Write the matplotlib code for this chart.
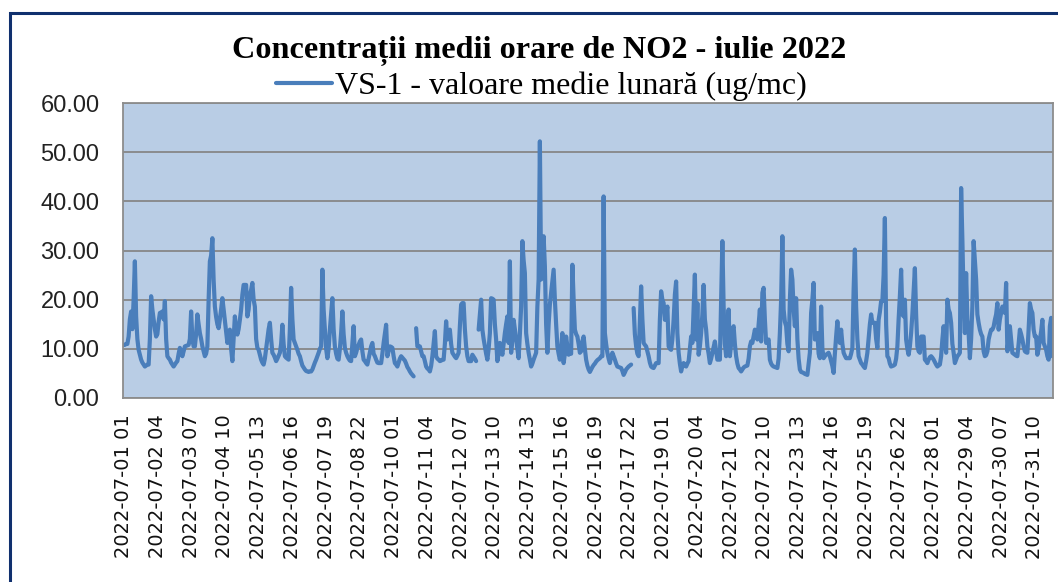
import numpy as np
import matplotlib
matplotlib.use("Agg")
import matplotlib.pyplot as plt
from matplotlib.patches import Rectangle

nan = np.nan

# Hourly NO2 concentrations (ug/mc), July 2022, one list per day (24 values each)
d01 = [10.8, 10.8, 11, 11, 12.5, 16, 17.6, 14, 20, 27.8, 16.6, 12, 9.8, 8.8, 7.8, 7.2, 6.8, 6.4, 6.6, 6.8, 6.8, 12, 20.7, 18]
d02 = [16, 14, 12.5, 13, 15.5, 17.3, 17.4, 17.6, 16, 19.7, 12, 8.5, 8.1, 7.8, 7.2, 6.8, 6.4, 6.8, 7.2, 7.5, 9, 10.2, 9.2, 8.5]
d03 = [9.5, 10.5, 10.6, 10.7, 10.8, 12, 17.6, 12, 10.5, 10.5, 13, 17, 15, 13.2, 12, 10.5, 9.5, 8.5, 9, 10.5, 20, 27.8, 29, 32.5]
d04 = [24, 18.6, 16.5, 15, 14.2, 16, 18, 20.3, 18, 15.9, 13.5, 11.2, 12.5, 13.9, 10, 7.5, 12, 16.6, 14, 12.9, 14, 15.9, 18, 21]
d05 = [23, 23, 23, 16.6, 18, 21, 22, 23.4, 20, 18.6, 12, 10.2, 9.8, 8.8, 7.8, 7.2, 6.8, 8, 10, 12, 14, 15.3, 12, 9.2]
d06 = [8.8, 8.2, 7.5, 8, 8.6, 9.2, 11, 14.9, 11, 8.5, 8.2, 8, 7.8, 14, 22.4, 16, 11.9, 11.2, 10.5, 9.8, 9, 8.5, 7.5, 6.6]
d07 = [6.2, 5.8, 5.5, 5.4, 5.3, 5.4, 5.4, 5.8, 6.5, 7.2, 7.8, 8.5, 9.2, 10, 10.5, 26.1, 18, 13.9, 10, 8.1, 10, 13.9, 17, 20.3]
d08 = [14, 10.5, 9, 8, 7.8, 10, 13.2, 17.6, 13, 10.2, 9.2, 8.5, 8, 7.6, 7.5, 11, 14.6, 8.5, 9.2, 10.2, 10.8, 11.5, 11.9, 9.5]
d09 = [7.8, 7.5, 7.1, 6.8, 8, 9.2, 10.5, 11.2, 9, 8.5, 7.8, 7.2, 7.1, 7.1, 7.1, 9, 11.2, 13, 14.9, 8.5, 9.5, 10.5, 10.4, 10.2]
d10 = [8.5, 7.1, 6.8, 6.4, 7.2, 8, 8.5, 8.2, 7.9, 7.6, 7, 6.3, 5.9, 5.4, 5, 4.7, 4.4, nan, 14.2, 10.5, 10.5, 10.5, 9.5, 8.5]
d11 = [8.5, 7.5, 6.4, 6, 5.8, 5.4, 6.5, 8.5, 11, 13.6, 8.5, 8, 7.8, 7.5, 7.6, 7.8, 7.8, 11, 15.6, 11.9, 12.5, 13.9, 11, 9.2]
d12 = [8.8, 8.4, 8.1, 8.6, 9.2, 14.6, 19, 19.3, 19.3, 14, 10.5, 8.5, 7.5, 7.5, 7.5, 8.8, 8.4, 8, 7.5, nan, 13.9, 17, 20, 13.9]
d13 = [12, 10.5, 9, 7.8, 10, 13.2, 20.3, 20.2, 20, 15, 11.9, 7.5, 9, 11.2, 10, 8.8, 11, 13.2, 15, 16.6, 11.2, 27.8, 9.2, 12]
d14 = [15.9, 14, 11.9, 10, 8.1, 13, 18.6, 31.9, 28, 25.4, 13.2, 11, 9.2, 7.8, 6.4, 7, 7.8, 8.5, 9.2, 18.6, 24.1, 52.2, 24.1, 30]
d15 = [32.9, 26.8, 15, 9.2, 15, 19, 21.4, 24, 26.1, 20, 15, 10.5, 9, 7.8, 10, 13.2, 7.1, 9, 12.5, 10.5, 8.8, 9.2, 9, 27.1]
d16 = [20, 13.9, 13, 12.5, 11, 9.2, 9.5, 11.5, 12.5, 10, 7.8, 6.6, 5.8, 5.3, 5.8, 6.3, 6.7, 7, 7.4, 7.7, 7.9, 8.1, 8.5, 8.5]
d17 = [41, 13.2, 11, 9.2, 8, 7.1, 8.5, 9.2, 8.5, 7.8, 7, 6.4, 6.3, 6.2, 6.1, 5.5, 4.7, 5.2, 5.8, 6.1, 6.4, 6.6, 6.8, nan]
d18 = [18.3, 13, 10.5, 9, 8.5, 15.9, 22.7, 16, 11.2, 10.8, 10.5, 9.5, 8.5, 7.2, 6.4, 6.2, 6.1, 6.6, 7.1, 7.1, 7.1, 15.9, 21.7, 20]
d19 = [19.3, 15.9, 17, 18.6, 10.5, 10, 9.8, 12, 15.9, 21, 23.7, 13.2, 9.2, 7, 5.4, 6.5, 7.1, 6.6, 6.4, 7, 7.5, 10, 12.5, 11.2]
d20 = [18, 25.1, 11.9, 19.3, 8.8, 10.5, 13.2, 17, 23, 16, 13.9, 10.5, 9, 7.1, 8, 9.2, 10.5, 11.5, 9.5, 7.8, 7.8, 7.8, 20, 31.9]
d21 = [18.6, 11, 8.5, 13, 18, 8.5, 11, 13.9, 14.6, 11, 8.5, 7, 6.1, 5.8, 5.4, 5.8, 6.2, 6.4, 6.5, 6.6, 8, 10.5, 11.5, 11.2]
d22 = [12.5, 13.9, 12.8, 11.9, 15, 18, 11.5, 21.4, 22.4, 16, 11.2, 11.5, 11.9, 7.8, 7, 6.6, 6.4, 6.3, 6.2, 6.1, 8, 13.2, 20, 32.9]
d23 = [18, 15.5, 14.6, 11, 9.5, 20, 26.1, 24.1, 18, 14.6, 20.3, 12, 8, 5.8, 5.3, 5.2, 5.1, 4.9, 4.8, 4.7, 7, 9.2, 17.3, 20]
d24 = [23.4, 11.9, 12.5, 13.2, 9, 8.1, 18.6, 10, 8.1, 8.5, 8.8, 9, 9.2, 8.5, 7.5, 6.5, 5.1, 9, 12.5, 15.6, 12, 11.2, 13.9, 11]
d25 = [9.2, 8.6, 8.1, 8.1, 8.1, 8.1, 9, 10.2, 22, 30.2, 18.6, 12, 8.5, 7.8, 7.1, 6.8, 6.4, 6.1, 7.5, 9.2, 12, 15, 17, 15.3]
d26 = [15.3, 15.3, 12, 10.2, 15.9, 17.5, 19.7, 19.7, 25, 36.6, 15, 8.5, 8.1, 7, 6.4, 6.5, 6.6, 6.8, 8, 10.5, 16, 20.7, 26.1, 17]
d27 = [16.6, 20, 11.9, 10, 8.8, 10.5, 13.2, 17, 21.7, 26.4, 17, 10.5, 9.5, 9.2, 12.5, 12.5, 12.5, 7.8, 7.5, 7.1, 7.8, 8.3, 8.5, 8.2]
d28 = [7.8, 7.3, 6.8, 6.4, 6.6, 6.8, 8.5, 11.9, 14.6, 12, 9.2, 20, 18, 17.3, 15.3, 11, 9.2, 7.1, 7.8, 8.5, 8.8, 9.2, 42.7, 32.2]
d29 = [20, 13.2, 25.4, 16, 13.2, 8.1, 12, 18.6, 31.9, 28, 24.1, 17, 15.3, 13.9, 13, 12.5, 9.5, 8.5, 8.7, 9.5, 11.9, 13, 13.9, 13.9]
d30 = [14.5, 15.9, 17, 19.3, 13.9, 16, 17.3, 18.6, 18, 17.3, 23.4, 9.5, 12, 14.6, 12, 9.2, 9, 8.8, 8.6, 8.5, 11, 13.9, 13, 11.9]
d31 = [10.5, 9.5, 9.3, 9.2, 14, 19.3, 18, 17.3, 13.9, 12.5, 12.5, 8.8, 10, 11.9, 13.5, 15.9, 11.2, 10.5, 9.8, 8.5, 7.8, 14.6, 16.3, 8.5]

days = [d01, d02, d03, d04, d05, d06, d07, d08, d09, d10, d11, d12, d13, d14, d15, d16,
        d17, d18, d19, d20, d21, d22, d23, d24, d25, d26, d27, d28, d29, d30, d31]

tick_labels = ["2022-07-01 01", "2022-07-02 04", "2022-07-03 07", "2022-07-04 10",
               "2022-07-05 13", "2022-07-06 16", "2022-07-07 19", "2022-07-08 22",
               "2022-07-10 01", "2022-07-11 04", "2022-07-12 07", "2022-07-13 10",
               "2022-07-14 13", "2022-07-15 16", "2022-07-16 19", "2022-07-17 22",
               "2022-07-19 01", "2022-07-20 04", "2022-07-21 07", "2022-07-22 10",
               "2022-07-23 13", "2022-07-24 16", "2022-07-25 19", "2022-07-26 22",
               "2022-07-28 01", "2022-07-29 04", "2022-07-30 07", "2022-07-31 10"]
tick_step = 27

title = "Concentrații medii orare de NO2 - iulie 2022"
series_name = "VS-1 - valoare medie lunară (ug/mc)"

values = np.array([v for d in days for v in d], dtype=float)
hours = np.arange(len(values))

W, H = 1058, 582
fig = plt.figure(figsize=(W / 100, H / 100), dpi=100)
fig.patch.set_facecolor("white")

ax = fig.add_axes([123 / W, 1 - 398 / H, (1053 - 123) / W, (398 - 103) / H])
ax.set_facecolor("#B9CDE5")
line, = ax.plot(hours, values, color="#4A7EBB", lw=3.0,
                solid_joinstyle="round", solid_capstyle="round")

ax.set_xlim(-0.5, len(values) - 0.5)
ax.set_ylim(0, 60)
yt = np.arange(0, 61, 10)
ax.set_yticks(yt)
ax.set_yticklabels([f"{v:.2f}" for v in yt], fontfamily="Liberation Sans",
                   fontsize=17, color="#222222")
ax.set_xticks(np.arange(len(tick_labels)) * tick_step)
ax.set_xticklabels(tick_labels, rotation=90, fontfamily="DejaVu Sans",
                   fontsize=14, color="#111111")
ax.tick_params(axis="x", length=0, pad=12)
ax.tick_params(axis="y", length=0, pad=17)
ax.yaxis.grid(True, color="#878787", lw=1.3)
ax.set_axisbelow(True)
for s in ax.spines.values():
    s.set_color("#8C8C8C")
    s.set_linewidth(1.3)

fig.text(539 / W, 1 - 51 / H, title, ha="center", va="center",
         fontfamily="Liberation Serif", fontweight="bold", fontsize=23.2, color="black")

fig.legend([line], [series_name], loc="center",
           bbox_to_anchor=((277 + 806) / 2 / W, 1 - 86 / H),
           frameon=False, handlelength=1.75, handletextpad=0.1,
           prop={"family": "Liberation Serif", "size": 23},
           borderpad=0, borderaxespad=0)

border = Rectangle((10 / W, -0.5), 2.0, (1 - 12.5 / H) + 0.5, transform=fig.transFigure,
                   fill=False, edgecolor="#10306E", lw=2.2)
fig.add_artist(border)

fig.savefig("out.png", dpi=100)
